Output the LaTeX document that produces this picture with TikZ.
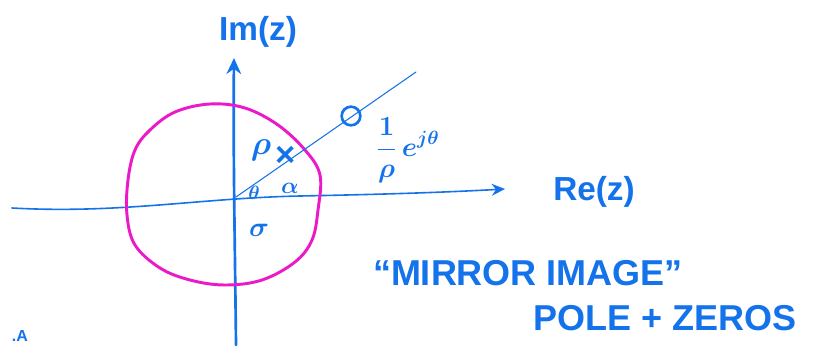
\documentclass[tikz,border=0pt]{standalone}
\usepackage{fontspec}
\setmainfont{Liberation Sans}
\usetikzlibrary{arrows.meta}
\definecolor{pen}{RGB}{20,115,235}
\definecolor{mag}{RGB}{235,25,200}
\tikzset{
  ink/.style={draw=pen, line width=1.3pt, line cap=round, line join=round},
  thinink/.style={draw=pen, line width=0.8pt, line cap=round},
  lab/.style={text=pen, inner sep=0pt, font=\fontsize{#1}{#1}\selectfont\bfseries\boldmath},
  lab/.default=16
}
\begin{document}
\begin{tikzpicture}[x=0.75pt,y=-0.75pt]
\useasboundingbox (0,0) rectangle (820,347);
% axes
\coordinate (imtop) at (234,58);
\coordinate (imbot) at (236,345);
\coordinate (releft) at (12,208);
\coordinate (reright) at (505,189);
\coordinate (origin) at (236,197);
\coordinate (rayend) at (416,72);
\draw[ink, line width=2pt, -{Stealth[length=12pt,width=11pt]}] (imbot) .. controls (235,250) and (233,150) .. (imtop);
\draw[ink, line width=1.2pt, -{Stealth[length=10pt,width=9pt]}] (releft) .. controls (120,214) and (200,198) .. (300,196) .. controls (400,194) and (450,192) .. (reright);
% magenta circle
\draw[mag, line width=2.2pt, line join=round] plot[smooth cycle, tension=0.6] coordinates {
 (150,130) (175,112) (210,104) (245,108) (278,125) (305,150) (320,175) (318,210)
 (312,240) (295,262) (262,280) (225,285) (190,280) (160,268) (135,245) (127,215)
 (128,180) (135,150)};
% ray
\draw[thinink] (origin) -- (rayend);
% zero
\node[draw=pen, line width=2pt, circle, minimum size=14pt, inner sep=0pt] (zero) at (351,116) {};
% pole
\node[lab=26] (pole) at (286,156) {×};
% labels
\node[lab=24] (rho) at (261,150) {$\rho$};
\node[lab=16] (alpha) at (290,188) {$\alpha$};
\node[lab=14] (theta) at (254,193) {$\theta$};
\node[lab=22] (sigma) at (259,230) {$\sigma$};
\node[lab=22] (mirlab) at (408,150) {$\displaystyle\frac{1}{\rho}\,e^{j\theta}$};
\node[lab=25] (imlab) at (258,32) {Im(z)};
\node[lab=25] (relab) at (594,192) {Re(z)};
\node[lab=27] (mirror) at (528,273) {“MIRROR IMAGE”};
\node[lab=27] (polez) at (665,318) {POLE + ZEROS};
\node[lab=12] (dotA) at (20,336) {.A};
\end{tikzpicture}
\end{document}
